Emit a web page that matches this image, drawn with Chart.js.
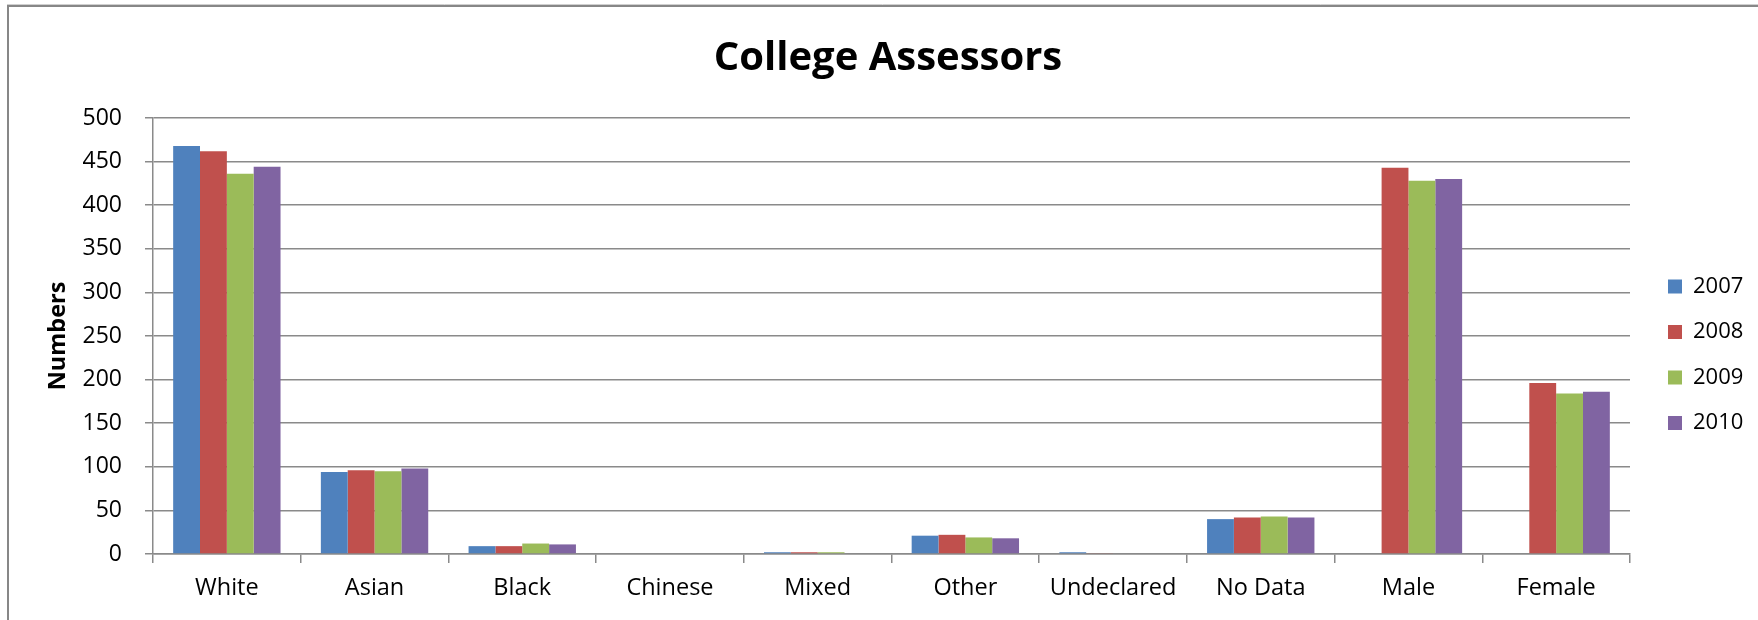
<!DOCTYPE html>
<html><head><meta charset="utf-8">
<script src="https://cdn.jsdelivr.net/npm/chart.js@4"></script>
<style>html,body{margin:0;padding:0;background:#fff;overflow:hidden}canvas{display:block}</style>
</head><body>
<canvas id="c" width="1758" height="620"></canvas>
<script>
const categories = ['White', 'Asian', 'Black', 'Chinese', 'Mixed', 'Other', 'Undeclared', 'No Data', 'Male', 'Female'];
const seriesNames = ['2007', '2008', '2009', '2010'];
const values2007 = [468, 94, 9, 0, 2, 21, 2, 40, null, null];
const values2008 = [462, 96, 9, 0, 2, 22, 1, 42, 443, 196];
const values2009 = [436, 95, 12, 0, 2, 19, 0, 43, 428, 184];
const values2010 = [444, 98, 11, 0, 0, 18, 0, 42, 430, 186];
const yMin = 0, yMax = 500, yStep = 50;
const seriesColors = ['#4F81BD', '#C0504D', '#9BBB59', '#8064A2'];

const FONT = "'Open Sans', 'Liberation Sans', sans-serif";
const GRID = '#8a8a8a';

const frame = {
  id: 'frame',
  beforeDraw(chart) {
    const ctx = chart.ctx;
    ctx.save();
    ctx.fillStyle = '#fff';
    ctx.fillRect(0, 0, chart.width, chart.height);
    ctx.strokeStyle = '#d0d0d0';
    ctx.lineWidth = 1;
    ctx.beginPath(); ctx.moveTo(7, 4.5); ctx.lineTo(chart.width, 4.5); ctx.stroke();
    ctx.strokeStyle = '#878787';
    ctx.lineWidth = 2;
    ctx.beginPath();
    ctx.moveTo(8, chart.height + 2);
    ctx.lineTo(8, 6);
    ctx.lineTo(chart.width + 2, 6);
    ctx.stroke();
    ctx.restore();
  }
};

const legendPlace = {
  id: 'legendPlace',
  afterInit(chart) {
    const lg = chart.legend;
    const fit = lg.fit;
    lg.fit = function () { fit.call(this); this.width = 128; };
  },
  afterLayout(chart) {
    const lg = chart.legend;
    const p = lg.options.labels.padding;
    lg.left = 1668 - p; lg.right = lg.left + lg.width;
    lg.top = 275.5 - p; lg.bottom = lg.top + 700;
  }
};

const datasets = [values2007, values2008, values2009, values2010].map((v, i) => ({
  label: seriesNames[i],
  data: v,
  backgroundColor: seriesColors[i],
  borderWidth: 0,
  categoryPercentage: 0.727,
  barPercentage: 1.0
}));

new Chart(document.getElementById('c'), {
  type: 'bar',
  data: { labels: categories, datasets },
  plugins: [frame, legendPlace],
  options: {
    responsive: false,
    animation: false,
    devicePixelRatio: 1,
    layout: { padding: { left: 18, right: 0, top: 0, bottom: 0 } },
    plugins: {
      tooltip: { enabled: false },
      title: {
        display: true,
        text: 'College Assessors',
        color: '#000',
        font: { family: FONT, size: 40, weight: 'bold', lineHeight: 1.2 },
        padding: { top: 35, bottom: 35 }
      },
      legend: {
        display: true,
        position: 'right',
        align: 'start',
        labels: {
          color: '#000',
          font: { family: FONT, size: 22 },
          boxWidth: 14,
          boxHeight: 14,
          padding: 23.5
        }
      }
    },
    scales: {
      x: {
        afterFit(s) { s.height = 66; },
        grid: { display: true, drawOnChartArea: false, drawTicks: true, tickLength: 9, color: GRID, lineWidth: 1.5 },
        border: { display: true, color: GRID, width: 1.5 },
        ticks: { color: '#000', font: { family: FONT, size: 23.5 }, padding: 11, maxRotation: 0, autoSkip: false }
      },
      y: {
        min: yMin, max: yMax,
        afterFit(s) { s.width = 135; },
        grid: { color: GRID, lineWidth: 1.5, tickLength: 8, drawTicks: true },
        border: { display: true, color: GRID, width: 1.5 },
        ticks: { stepSize: yStep, color: '#000', font: { family: FONT, size: 23 }, padding: 23 },
        title: {
          display: true, text: 'Numbers', color: '#000',
          font: { family: FONT, size: 23.5, weight: 'bold', lineHeight: 1.2 },
          padding: { top: 26.5, bottom: 0 }
        }
      }
    }
  }
});
</script>
</body></html>
